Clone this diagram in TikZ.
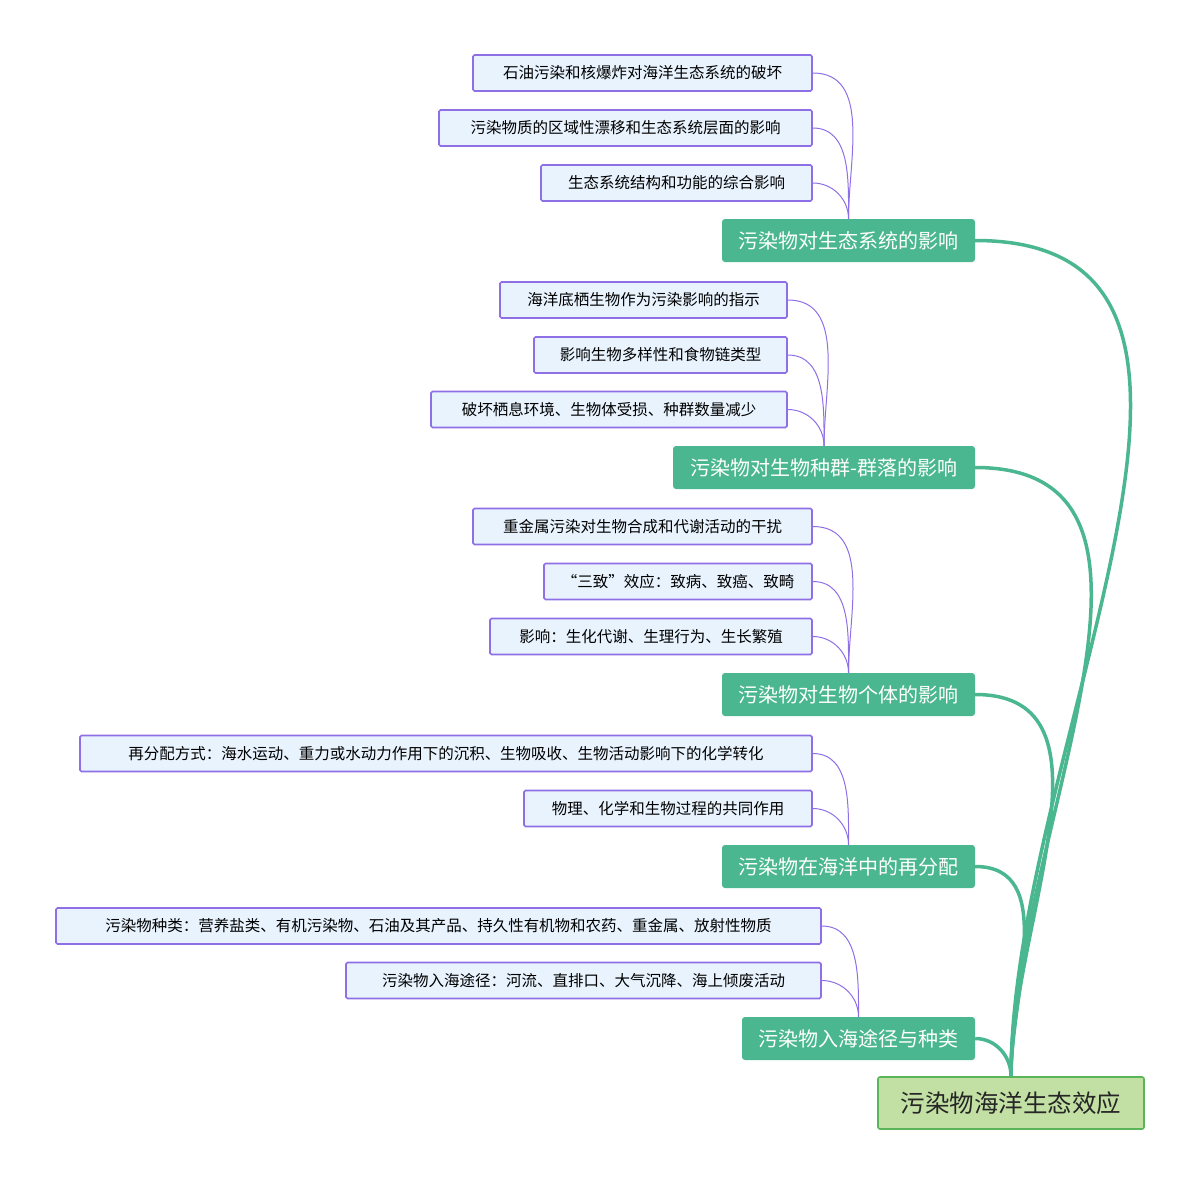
\documentclass[tikz,border=0pt]{standalone}
\usepackage{fontspec}
\setmainfont{Noto Sans CJK SC}
\definecolor{leaffill}{HTML}{E8F3FE}
\definecolor{leafdraw}{HTML}{8E6FE6}
\definecolor{branchfill}{HTML}{4AB791}
\definecolor{rootfill}{HTML}{C3E0A4}
\definecolor{rootdraw}{HTML}{5AB55A}
\begin{document}
\begin{tikzpicture}[x=1pt, y=-1pt,
	leaf/.style={draw=leafdraw, fill=leaffill, line width=1.6pt, rounded corners=1.5pt,
		inner sep=0pt, minimum height=36pt, font=\fontsize{15.5}{18}\selectfont},
	branch/.style={fill=branchfill, rounded corners=3pt, inner sep=0pt,
		minimum height=43pt, text=white, font=\fontsize{20}{24}\selectfont},
	root/.style={draw=rootdraw, fill=rootfill, line width=1.6pt, rounded corners=2pt,
		inner sep=0pt, minimum height=52pt, text=black!85, font=\fontsize{24.5}{28}\selectfont},
	leafline/.style={draw=leafdraw, line width=1pt},
	branchline/.style={draw=branchfill, line width=3.5pt},
]
\useasboundingbox (0,0) rectangle (1200,1184);
% #1 name, #2 left, #3 right, #4 centre y
\def\leafnode#1#2#3#4#5{
	\node[leaf, minimum width=#3-#2] (#1) at ({(#2+#3)/2},#4) {#5};
}
\def\branchnode#1#2#3#4#5{
	\node[branch, minimum width=#3-#2] (#1) at ({(#2+#3)/2},#4) {#5};
}
% \leafto{leaf}{branch}
\def\leafto#1#2{
	\draw[leafline] (#1.east) to[out=0, in=90] (#2.north);
}

\node[root, minimum width=266pt] (root) at (1011,1103) {污染物海洋生态效应};

\branchnode{eco}{722}{975}{240.5}{污染物对生态系统的影响}
\branchnode{pop}{673}{975}{467.5}{污染物对生物种群-群落的影响}
\branchnode{ind}{722}{975}{694.5}{污染物对生物个体的影响}
\branchnode{dist}{722}{975}{866.5}{污染物在海洋中的再分配}
\branchnode{src}{742}{975}{1038.5}{污染物入海途径与种类}

\leafnode{eco1}{473}{812}{73}{石油污染和核爆炸对海洋生态系统的破坏}
\leafnode{eco2}{439}{812}{128}{污染物质的区域性漂移和生态系统层面的影响}
\leafnode{eco3}{541}{812}{183}{生态系统结构和功能的综合影响}
\leafto{eco1}{eco}
\leafto{eco2}{eco}
\leafto{eco3}{eco}

\leafnode{pop1}{500}{787}{300}{海洋底栖生物作为污染影响的指示}
\leafnode{pop2}{534}{787}{355}{影响生物多样性和食物链类型}
\leafnode{pop3}{431}{787}{409.5}{破坏栖息环境、生物体受损、种群数量减少}
\leafto{pop1}{pop}
\leafto{pop2}{pop}
\leafto{pop3}{pop}

\leafnode{ind1}{473}{812}{526.5}{重金属污染对生物合成和代谢活动的干扰}
\leafnode{ind2}{544}{812}{581.5}{“三致”效应：致病、致癌、致畸}
\leafnode{ind3}{490}{812}{636.5}{影响：生化代谢、生理行为、生长繁殖}
\leafto{ind1}{ind}
\leafto{ind2}{ind}
\leafto{ind3}{ind}

\leafnode{dist1}{80}{812}{753.5}{再分配方式：海水运动、重力或水动力作用下的沉积、生物吸收、生物活动影响下的化学转化}
\leafnode{dist2}{524}{812}{808.5}{物理、化学和生物过程的共同作用}
\leafto{dist1}{dist}
\leafto{dist2}{dist}

\leafnode{src1}{56}{821}{926}{污染物种类：营养盐类、有机污染物、石油及其产品、持久性有机物和农药、重金属、放射性物质}
\leafnode{src2}{346}{821}{980.5}{污染物入海途径：河流、直排口、大气沉降、海上倾废活动}
\leafto{src1}{src}
\leafto{src2}{src}

\foreach \b in {eco,pop,ind,dist,src}
	\draw[branchline] (\b.east) to[out=0, in=90] (root.north);
\end{tikzpicture}
\end{document}
